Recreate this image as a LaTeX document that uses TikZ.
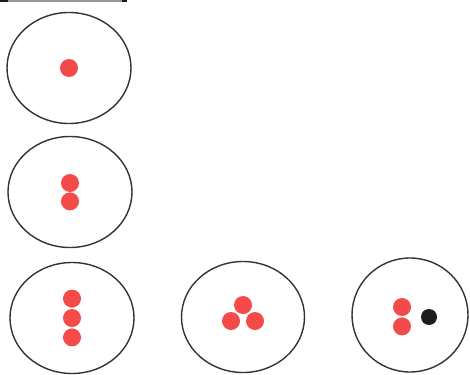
\documentclass[tikz,border=0pt]{standalone}
\usepackage{xcolor}
\usetikzlibrary{shapes.geometric,positioning}
\definecolor{ring}{HTML}{333333}
\definecolor{red}{HTML}{F54A4A}
\definecolor{ink}{HTML}{1C1C1C}

\begin{document}
\begin{tikzpicture}[x=1pt,y=-1pt,
  cell/.style={draw=ring,ellipse,line width=1.4pt,inner sep=0pt,
               minimum width=124pt,minimum height=111pt},
  pt/.style={circle,fill=red,inner sep=0pt,minimum size=18pt},
  odd/.style={circle,fill=ink,inner sep=0pt,minimum size=16pt}]
\useasboundingbox (0,0) rectangle (470,374);
\draw[ink!45,line width=2pt] (0,1) -- (127,1);
\draw[ink,line width=2pt] (0,1) -- (8,1) (122,1) -- (127,1);
% left column
\node[cell] (c1) at (69,68) {};
\node[pt] (a1) at (c1.center) {};
\node[cell] (c2) at (70,192) {};
\node[pt] (b1) at (70,183) {};
\node[pt,below=0pt of b1] (b2) {};
\node[cell] (c3) at (72,318) {};
\node[pt] (d2) at (c3.center) {};
\node[pt,above=1pt of d2] (d1) {};
\node[pt,below=1pt of d2] (d3) {};
% bottom row
\node[cell,minimum width=123pt] (c4) at (243,317) {};
\node[pt] (e1) at (243,305) {};
\node[pt] (e2) at (231,321) {};
\node[pt] (e3) at (255,321) {};
\node[cell,minimum width=116pt,minimum height=114pt] (c5) at (410,315) {};
\node[pt] (f1) at (402,307) {};
\node[pt,below=1pt of f1] (f2) {};
\node[odd] (g1) at (429,317) {};
\end{tikzpicture}
\end{document}
